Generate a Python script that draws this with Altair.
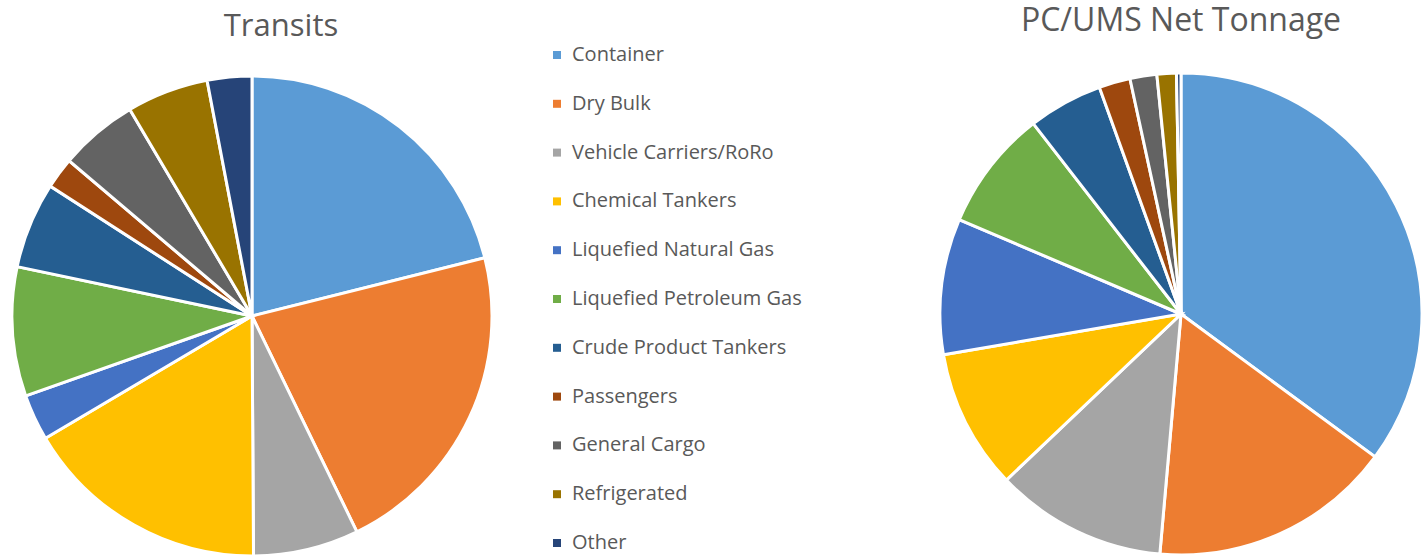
import altair as alt
import pandas as pd

categories = ["Container", "Dry Bulk", "Vehicle Carriers/RoRo", "Chemical Tankers",
              "Liquefied Natural Gas", "Liquefied Petroleum Gas", "Crude Product Tankers",
              "Passengers", "General Cargo", "Refrigerated", "Other"]
transits = [21.1, 21.7, 7.1, 16.6, 3.1, 8.7, 5.8, 2.1, 5.3, 5.5, 3.0]
tonnage = [35.1, 16.3, 11.5, 9.4, 9.1, 8.1, 5.0, 2.1, 1.8, 1.3, 0.3]
colors = ["#5B9BD5", "#ED7D31", "#A5A5A5", "#FFC000", "#4472C4", "#70AD47",
          "#255E91", "#9E480E", "#636363", "#997300", "#264478"]
titles = ["Transits", "PC/UMS Net Tonnage"]

df_t = pd.DataFrame({"cat": categories, "val": transits, "idx": range(len(categories))})
df_n = pd.DataFrame({"cat": categories, "val": tonnage, "idx": range(len(categories))})
df_leg = pd.DataFrame({"cat": categories})

color = alt.Color("cat:N", scale=alt.Scale(domain=categories, range=colors), legend=None)
FONT = "Open Sans"

pie_t = alt.Chart(df_t).mark_arc(radius=240, stroke="white", strokeWidth=3).encode(
    theta=alt.Theta("val:Q", stack=True),
    order=alt.Order("idx:Q"),
    color=color,
    x=alt.value(252), y=alt.value(316),
)
pie_n = alt.Chart(df_n).mark_arc(radius=241, stroke="white", strokeWidth=3).encode(
    theta=alt.Theta("val2:Q", stack=True),
    order=alt.Order("idx:Q"),
    color=color,
    x=alt.value(1181), y=alt.value(314),
).transform_calculate(val2="datum.val")

title_t = alt.Chart(pd.DataFrame({"t": [titles[0]]})).mark_text(
    font=FONT, fontSize=31, color="#595959", baseline="middle", align="center"
).encode(text="t:N", x=alt.value(281), y=alt.value(27))
title_n = alt.Chart(pd.DataFrame({"t": [titles[1]]})).mark_text(
    font=FONT, fontSize=32, color="#595959", baseline="middle", align="center"
).encode(text="t:N", x=alt.value(1181), y=alt.value(21))

ypos = alt.Y("cat:N", sort=categories, scale=alt.Scale(range=[55, 543], padding=0), axis=None)
leg_sq = alt.Chart(df_leg).mark_square(size=64, opacity=1).encode(
    x=alt.value(557), y=ypos, color=color
)
leg_tx = alt.Chart(df_leg).mark_text(
    font=FONT, fontSize=20, color="#595959", align="left", baseline="middle"
).encode(x=alt.value(572), y=ypos, text="cat:N")

chart = alt.layer(pie_t, pie_n, title_t, title_n, leg_sq, leg_tx).resolve_scale(
    theta="independent"
).properties(
    width=1422, height=556, padding=0, autosize=alt.AutoSizeParams(type="none")
).configure_view(stroke=None)

chart.save("out.html", embed_options={"renderer": "svg", "actions": False})
